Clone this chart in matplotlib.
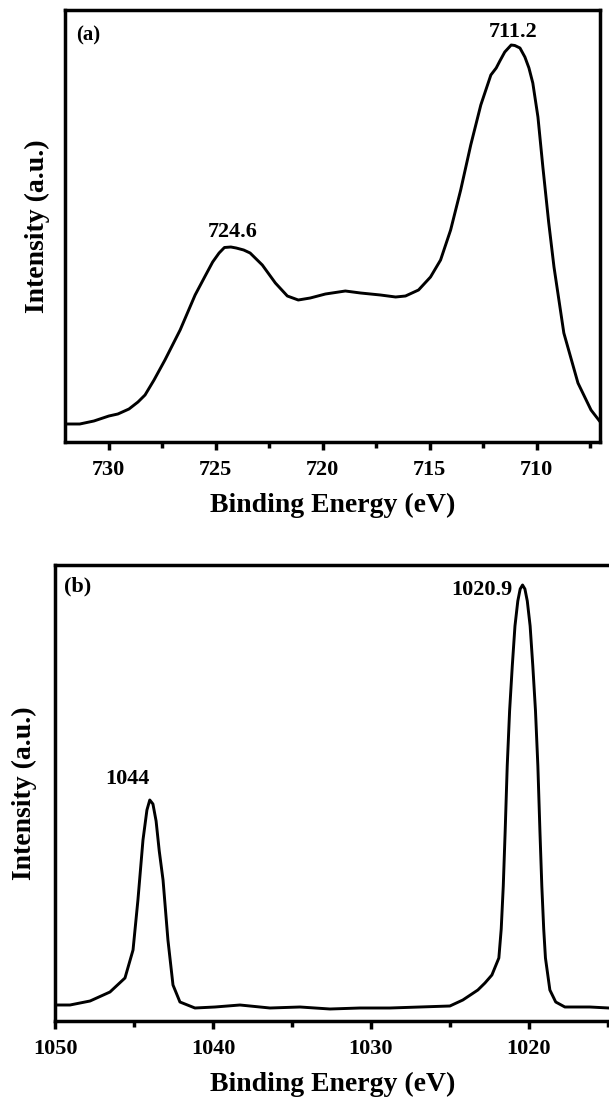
import matplotlib
matplotlib.use("Agg")
import matplotlib.pyplot as plt
from matplotlib.ticker import MultipleLocator

plt.rcParams["font.family"] = ["Liberation Serif", "DejaVu Serif"]
plt.rcParams["font.weight"] = "bold"

# Fe 2p region
fe_energy = [732.06, 731.36, 730.70, 730.0, 729.58, 729.06, 728.64, 728.31, 727.89,
             727.38, 726.67, 725.97, 725.50, 725.15, 724.85, 724.60, 724.30, 724.05,
             723.70, 723.40, 722.83, 722.22, 721.66, 721.15, 720.59, 719.88, 718.95,
             718.24, 717.31, 716.60, 716.14, 715.53, 714.97, 714.50, 714.03, 713.56,
             713.09, 712.62, 712.15, 711.90, 711.73, 711.50, 711.20, 711.03, 710.79,
             710.56, 710.37, 710.19, 709.95, 709.72, 709.45, 709.20, 708.74, 708.08,
             707.47, 707.0]
fe_intensity = [18, 18, 21, 26, 28, 33, 40, 47, 62,
                82, 112, 147, 166, 180, 189, 194.5, 195, 194,
                192, 189, 177, 159, 146, 142, 144, 148, 151,
                149, 147, 145, 146, 152, 165, 182, 212, 252,
                297, 337, 367, 374, 381, 390, 397, 396.5, 394,
                385, 374, 359, 325, 275, 220, 175, 109, 59,
                32, 19]

# Ni 2p region
ni_energy = [1050.0, 1049.05, 1047.78, 1046.52, 1045.57, 1045.06, 1044.75, 1044.43,
             1044.18, 1044.0, 1043.80, 1043.60, 1043.40, 1043.16, 1042.85, 1042.53,
             1042.09, 1041.14, 1039.87, 1038.29, 1036.39, 1034.49, 1032.59, 1030.70,
             1028.80, 1026.90, 1025.0, 1024.18, 1023.23, 1022.78, 1022.34, 1021.90,
             1021.75, 1021.62, 1021.50, 1021.37, 1021.22, 1021.05, 1020.88, 1020.70,
             1020.55, 1020.40, 1020.25, 1020.10, 1019.92, 1019.75, 1019.58, 1019.43,
             1019.30, 1019.18, 1019.06, 1018.95, 1018.67, 1018.30, 1017.72, 1016.14,
             1014.94]
ni_intensity = [16, 16, 20, 29, 43, 71, 121, 181,
                211, 221, 217, 200, 170, 141, 81, 36,
                19, 13, 14, 16, 13, 14, 12, 13,
                13, 14, 15, 21, 31, 38, 46, 63,
                92, 135, 190, 255, 310, 355, 395, 420,
                432, 436, 432, 420, 395, 355, 310, 255,
                190, 135, 92, 63, 31, 19, 14, 14,
                13]

fe_ticks = [730, 725, 720, 715, 710]
ni_ticks = [1050, 1040, 1030, 1020]

fig = plt.figure(figsize=(6.09, 11.06), dpi=100)
ax1 = fig.add_axes([65 / 609, 1 - 442 / 1106, 535 / 609, 432 / 1106])
ax2 = fig.add_axes([55 / 609, 1 - 1021 / 1106, 556 / 609, 456 / 1106])

lw_curve = 2.1
for ax, pad in ((ax1, 11), (ax2, 13)):
    for s in ax.spines.values():
        s.set_linewidth(2.5)
    ax.set_yticks([])
    ax.tick_params(axis="x", which="major", direction="out", length=6, width=2.5,
                   labelsize=16, pad=7)
    ax.tick_params(axis="x", which="minor", direction="out", length=4, width=2.5)
    ax.set_xlabel("Binding Energy (eV)", fontsize=20, fontweight="bold", labelpad=9)
    ax.set_ylabel("Intensity (a.u.)", fontsize=20, fontweight="bold", labelpad=pad)

ax1.plot(fe_energy, fe_intensity, color="black", lw=lw_curve)
ax1.set_xlim(732.05, 707.05)
ax1.set_ylim(0, 432)
ax1.set_xticks(fe_ticks)
ax1.xaxis.set_minor_locator(MultipleLocator(2.5))
ax1.text(0.02, 0.965, "(a)", transform=ax1.transAxes, fontsize=15, fontweight="bold",
         ha="left", va="top")
ax1.text(711.1, 400, "711.2", fontsize=16, fontweight="bold", ha="center", va="bottom")
ax1.text(724.2, 200, "724.6", fontsize=16, fontweight="bold", ha="center", va="bottom")

ax2.plot(ni_energy, ni_intensity, color="black", lw=lw_curve)
ax2.set_xlim(1050, 1014.8)
ax2.set_ylim(0, 456)
ax2.set_xticks(ni_ticks)
ax2.xaxis.set_minor_locator(MultipleLocator(5))
ax2.text(0.016, 0.975, "(b)", transform=ax2.transAxes, fontsize=16, fontweight="bold",
         ha="left", va="top")
ax2.text(1021.05, 441, "1020.9", fontsize=16, fontweight="bold", ha="right", va="top")
ax2.text(1045.4, 232, "1044", fontsize=16, fontweight="bold", ha="center", va="bottom")

fig.savefig("out.png", dpi=100)
